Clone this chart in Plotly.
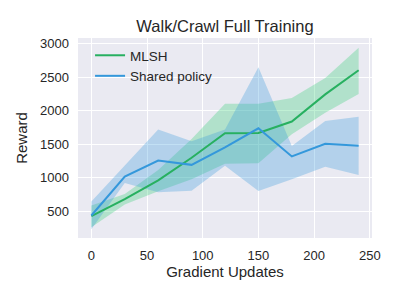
import plotly.graph_objects as go

updates = [0, 30, 60, 90, 120, 150, 180, 210, 240]
mlsh_mean = [430, 685, 965, 1300, 1665, 1670, 1840, 2245, 2605]
mlsh_upper = [590, 760, 1120, 1580, 2105, 2105, 2190, 2490, 2940]
mlsh_lower = [265, 605, 800, 980, 1210, 1220, 1650, 1970, 2250]
shared_mean = [440, 1020, 1260, 1195, 1455, 1740, 1320, 1510, 1480]
shared_upper = [650, 1190, 1720, 1545, 1720, 2650, 1476, 1850, 1910]
shared_lower = [235, 925, 785, 810, 1180, 805, 980, 1165, 1045]

GREEN = "#27b060"
BLUE = "#3498db"
FONT = "Liberation Sans, Arial, sans-serif"
TXT = "#262626"

fig = go.Figure()


def band(x, lo, hi, fill):
    fig.add_trace(go.Scatter(x=x, y=hi, mode="lines", line=dict(width=0),
                             showlegend=False, hoverinfo="skip"))
    fig.add_trace(go.Scatter(x=x, y=lo, mode="lines", line=dict(width=0),
                             fill="tonexty", fillcolor=fill,
                             showlegend=False, hoverinfo="skip"))


band(updates, mlsh_lower, mlsh_upper, "rgba(46,204,113,0.3)")
band(updates, shared_lower, shared_upper, "rgba(52,152,219,0.3)")

fig.add_trace(go.Scatter(x=updates, y=mlsh_mean, mode="lines", name="MLSH",
                         legendgroup="a", line=dict(color=GREEN, width=2)))
fig.add_trace(go.Scatter(x=updates, y=shared_mean, mode="lines", name="Shared policy",
                         legendgroup="b", line=dict(color=BLUE, width=2)))

fig.update_layout(
    width=400, height=300,
    margin=dict(l=78, r=28, t=38, b=61.5),
    paper_bgcolor="white",
    plot_bgcolor="#eaeaf2",
    font=dict(family=FONT, size=13, color=TXT),
    title=dict(text="Walk/Crawl Full Training", x=0.5, xanchor="center",
               xref="paper", y=1 - 26 / 300, yanchor="middle",
               font=dict(size=16.5, color=TXT, family=FONT)),
    legend=dict(x=0.041, y=1 - 2 / 200.5, xanchor="left", yanchor="top",
                bgcolor="rgba(0,0,0,0)", borderwidth=0,
                font=dict(size=13.5, color=TXT, family=FONT),
                traceorder="normal", tracegroupgap=4, itemwidth=30),
    showlegend=True,
)
fig.update_xaxes(range=[-12, 252], tickvals=[0, 50, 100, 150, 200, 250],
                 showgrid=True, gridcolor="white", gridwidth=1.2,
                 zeroline=False, showline=False, ticks="",
                 ticklabelstandoff=8,
                 title=dict(text="Gradient Updates", font=dict(size=15), standoff=4))
fig.update_yaxes(range=[105, 3085], tickvals=[500, 1000, 1500, 2000, 2500, 3000],
                 showgrid=True, gridcolor="white", gridwidth=1.2,
                 zeroline=False, showline=False, ticks="",
                 ticklabelstandoff=8,
                 title=dict(text="Reward", font=dict(size=15), standoff=8))

fig.write_html("out.html", config={"displayModeBar": False},
               post_script="document.body.style.margin='0';")
